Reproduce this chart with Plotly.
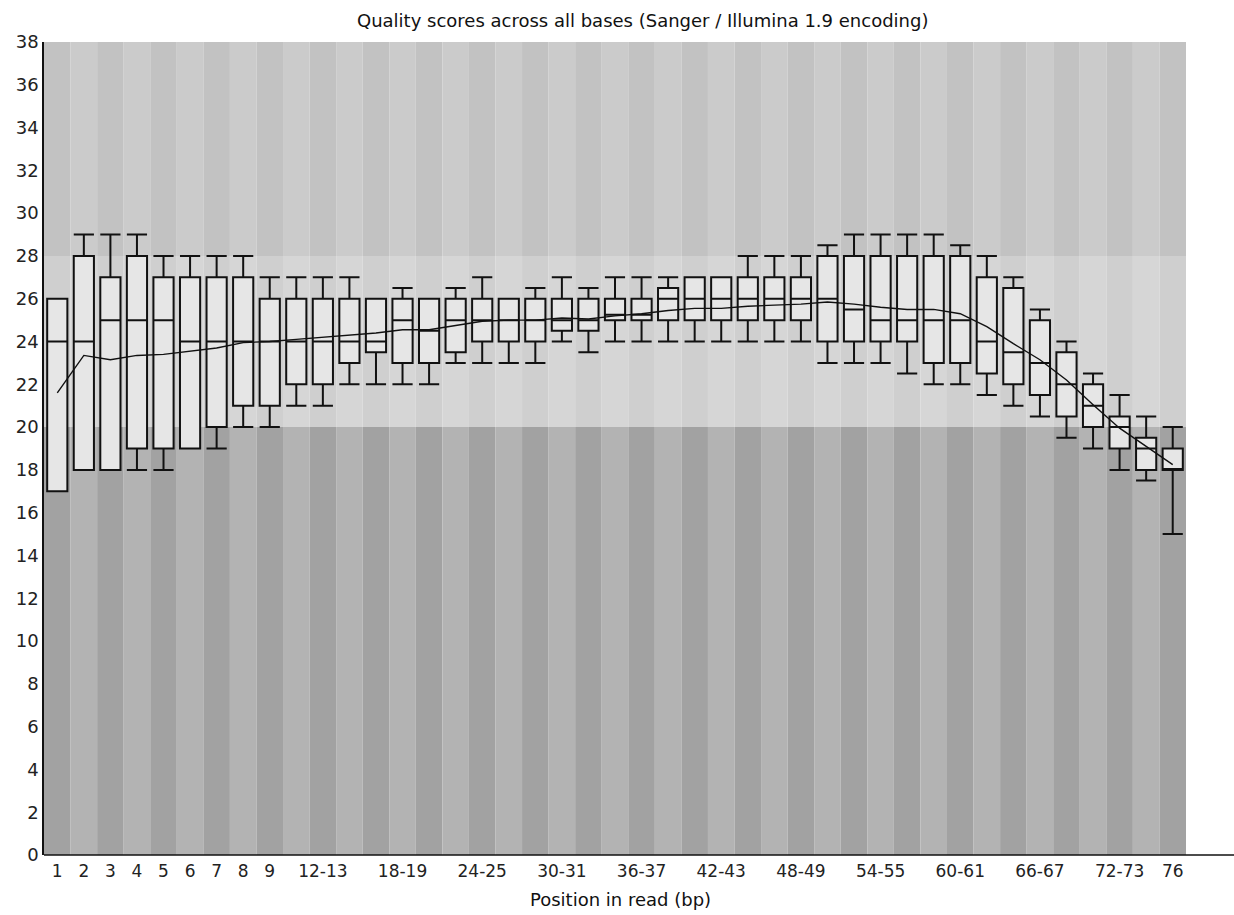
import plotly.graph_objects as go

# ---------------- data ----------------
positions = ["1", "2", "3", "4", "5", "6", "7", "8", "9",
             "10-11", "12-13", "14-15", "16-17", "18-19", "20-21", "22-23",
             "24-25", "26-27", "28-29", "30-31", "32-33", "34-35", "36-37",
             "38-39", "40-41", "42-43", "44-45", "46-47", "48-49", "50-51",
             "52-53", "54-55", "56-57", "58-59", "60-61", "62-63", "64-65",
             "66-67", "68-69", "70-71", "72-73", "74-75", "76"]

p10 = [17, 18, 18, 18, 18, 19, 19, 20, 20, 21, 21, 22, 22, 22, 22, 23,
       23, 23, 23, 24, 23.5, 24, 24, 24, 24, 24, 24, 24, 24, 23,
       23, 23, 22.5, 22, 22, 21.5, 21, 20.5, 19.5, 19, 18, 17.5, 15]
q1 = [17, 18, 18, 19, 19, 19, 20, 21, 21, 22, 22, 23, 23.5, 23, 23, 23.5,
      24, 24, 24, 24.5, 24.5, 25, 25, 25, 25, 25, 25, 25, 25, 24,
      24, 24, 24, 23, 23, 22.5, 22, 21.5, 20.5, 20, 19, 18, 18]
median = [24, 24, 25, 25, 25, 24, 24, 24, 24, 24, 24, 24, 24, 25, 24.5, 25,
          25, 25, 25, 25, 25, 25.25, 25.25, 26, 26, 26, 26, 26, 26, 26,
          25.5, 25, 25, 25, 25, 24, 23.5, 23, 22, 21, 20, 19, 18]
q3 = [26, 28, 27, 28, 27, 27, 27, 27, 26, 26, 26, 26, 26, 26, 26, 26,
      26, 26, 26, 26, 26, 26, 26, 26.5, 27, 27, 27, 27, 27, 28,
      28, 28, 28, 28, 28, 27, 26.5, 25, 23.5, 22, 20.5, 19.5, 19]
p90 = [26, 29, 29, 29, 28, 28, 28, 28, 27, 27, 27, 27, 26, 26.5, 26, 26.5,
       27, 26, 26.5, 27, 26.5, 27, 27, 27, 27, 27, 28, 28, 28, 28.5,
       29, 29, 29, 29, 28.5, 28, 27, 25.5, 24, 22.5, 21.5, 20.5, 20]
mean = [21.6, 23.35, 23.15, 23.35, 23.4, 23.55, 23.7, 23.95, 24.0, 24.1,
        24.2, 24.3, 24.4, 24.55, 24.55, 24.75, 24.95, 25.0, 25.0, 25.1,
        25.05, 25.2, 25.3, 25.45, 25.55, 25.55, 25.65, 25.7, 25.75, 25.85,
        25.75, 25.6, 25.5, 25.5, 25.3, 24.7, 23.9, 23.15, 22.2, 21.05,
        19.95, 19.1, 18.25]

shown_labels = ["1", "2", "3", "4", "5", "6", "7", "8", "9", "12-13",
                "18-19", "24-25", "30-31", "36-37", "42-43", "48-49",
                "54-55", "60-61", "66-67", "72-73", "76"]
y_ticks = list(range(0, 39, 2))
band_edges = [0, 20, 28, 38]

title_text = "Quality scores across all bases (Sanger / Illumina 1.9 encoding)"
x_title = "Position in read (bp)"

# ---------------- styling ----------------
band_colors = [("#a2a2a2", "#b3b3b3"),   # 0-20
               ("#cfcfcf", "#d6d6d6"),   # 20-28
               ("#c2c2c2", "#cbcbcb")]   # 28-38
FONT = "DejaVu Sans"
W, H = 1234, 915
L, R, T, B = 44, 48, 42, 60
plot_w = W - L - R
plot_h = H - T - B

idx = list(range(len(positions)))

fig = go.Figure()

fig.add_trace(go.Box(
    x=idx, q1=q1, median=median, q3=q3,
    lowerfence=p10, upperfence=p90,
    boxpoints=False, width=0.76, whiskerwidth=1,
    fillcolor="#e6e6e6",
    line=dict(color="#111111", width=2),
    hoverinfo="skip", showlegend=False,
))

fig.add_trace(go.Scatter(
    x=idx, y=mean, mode="lines",
    line=dict(color="#111111", width=1.4),
    hoverinfo="skip", showlegend=False,
))

shapes = []
for i in idx:
    for b in range(len(band_edges) - 1):
        col = band_colors[b][0] if i % 2 == 0 else band_colors[b][1]
        shapes.append(dict(
            type="rect", xref="x", yref="y", layer="below",
            x0=i - 0.5, x1=i + 0.5, y0=band_edges[b], y1=band_edges[b + 1],
            fillcolor=col, line=dict(width=0),
        ))
# x-axis baseline extending to the right edge of the image
shapes.append(dict(type="line", xref="paper", yref="paper",
                   x0=0, x1=(W - L) / plot_w, y0=0, y1=0,
                   line=dict(color="#111111", width=1.5)))

tickvals = [positions.index(t) for t in shown_labels]

fig.update_layout(
    width=W, height=H, autosize=False,
    margin=dict(l=L, r=R, t=T, b=B, pad=0),
    paper_bgcolor="white", plot_bgcolor="white",
    font=dict(family=FONT, color="#222222"),
    shapes=shapes,
    xaxis=dict(range=[-0.5, len(positions) - 0.5], showgrid=False,
               zeroline=False, showline=False, ticks="",
               tickvals=tickvals, ticktext=shown_labels,
               ticklabelstandoff=4,
               tickfont=dict(size=17, family=FONT, color="#222222"),
               fixedrange=True),
    yaxis=dict(range=[0, 38], showgrid=False, zeroline=False,
               showline=True, linecolor="#111111", linewidth=1.5,
               ticks="", tickvals=y_ticks,
               tickfont=dict(size=18, family=FONT, color="#222222"),
               fixedrange=True),
    annotations=[
        dict(text=title_text, xref="paper", yref="paper",
             x=(642 - L) / plot_w, y=1 + (T - 21) / plot_h,
             xanchor="center", yanchor="middle", showarrow=False,
             font=dict(size=18, family=FONT, color="#111111")),
        dict(text=x_title, xref="paper", yref="paper",
             x=(620 - L) / plot_w, y=-(900 - (T + plot_h)) / plot_h,
             xanchor="center", yanchor="middle", showarrow=False,
             font=dict(size=18, family=FONT, color="#111111")),
    ],
)

fig.write_html("out.html")
